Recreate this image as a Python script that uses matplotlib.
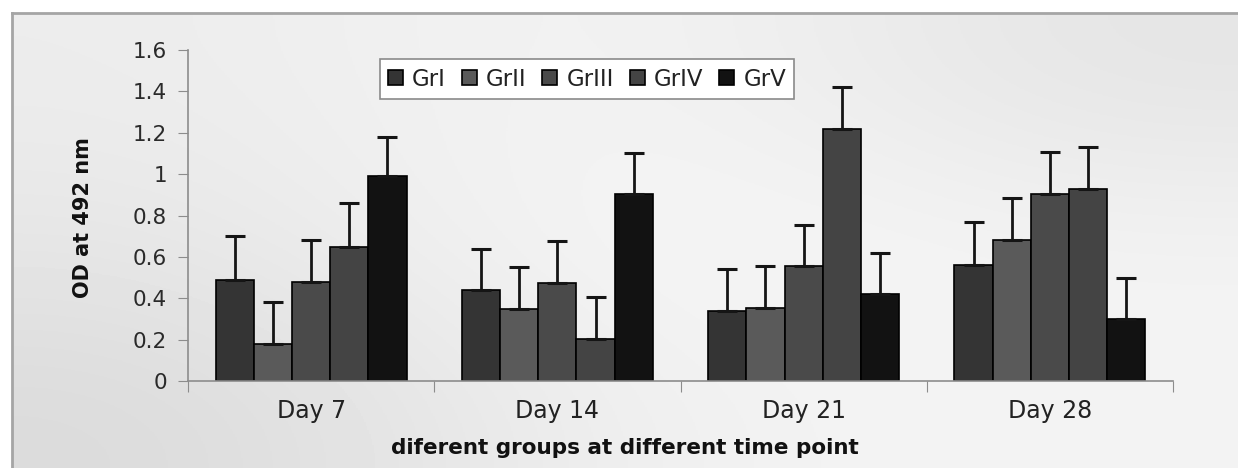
import numpy as np
import matplotlib
matplotlib.use("Agg")
import matplotlib.pyplot as plt

plt.rcParams['font.family'] = ['DejaVu Sans']

# ---- data ----
categories = ["Day 7", "Day 14", "Day 21", "Day 28"]
groups = ["GrI", "GrII", "GrIII", "GrIV", "GrV"]
gr1 = [0.49, 0.44, 0.34, 0.56]
gr2 = [0.18, 0.35, 0.355, 0.68]
gr3 = [0.48, 0.475, 0.555, 0.905]
gr4 = [0.65, 0.205, 1.22, 0.93]
gr5 = [0.99, 0.905, 0.42, 0.30]
err1 = [0.21, 0.20, 0.20, 0.21]
err2 = [0.20, 0.20, 0.20, 0.205]
err3 = [0.20, 0.20, 0.20, 0.20]
err4 = [0.21, 0.20, 0.20, 0.20]
err5 = [0.19, 0.195, 0.20, 0.20]
yticks = [0, 0.2, 0.4, 0.6, 0.8, 1, 1.2, 1.4, 1.6]
ytick_labels = ["0", "0.2", "0.4", "0.6", "0.8", "1", "1.2", "1.4", "1.6"]
xlabel = "diferent groups at different time point"
ylabel = "OD at 492 nm"

series = [gr1, gr2, gr3, gr4, gr5]
errors = [err1, err2, err3, err4, err5]
colors = ["#343434", "#5a5a5a", "#4a4a4a", "#444444", "#121212"]

W, H = 1238, 468
fig = plt.figure(figsize=(W / 100, H / 100), dpi=100)
fig.patch.set_facecolor("white")

# background gradient panel
bg = fig.add_axes([12 / W, 0, 1 - 12 / W, (H - 13) / H], zorder=0)
grid = np.array([[236, 245, 228],
                 [230, 248, 242],
                 [218, 241, 244]], dtype=float)
bg.imshow(grid, extent=[0, 1, 0, 1], aspect="auto", cmap="gray",
          vmin=0, vmax=255, interpolation="bicubic")
bg.set_xlim(0, 1); bg.set_ylim(0, 1)
bg.set_xticks([]); bg.set_yticks([])
for s in ["right", "bottom"]:
    bg.spines[s].set_visible(False)
for s in ["left", "top"]:
    bg.spines[s].set_color("#a5a5a5")
    bg.spines[s].set_linewidth(2)

# main axes
ax = fig.add_axes([188 / W, 87 / H, 985 / W, 331 / H], zorder=1)
ax.set_facecolor("none")
x = np.arange(1, len(categories) + 1)
bw = 0.155
for i, (vals, errs, c, name) in enumerate(zip(series, errors, colors, groups)):
    pos = x + (i - 2) * bw
    ax.bar(pos, vals, width=bw, color=c, edgecolor="black", linewidth=1.2,
           label=name, zorder=2)
    ax.errorbar(pos, vals, yerr=[np.zeros(len(errs)), errs], fmt="none",
                ecolor="#151515", elinewidth=2, capsize=7, capthick=2.2, zorder=3)

ax.set_xlim(0.5, len(categories) + 0.5)
ax.set_ylim(0, 1.6)
ax.set_yticks(yticks)
ax.set_yticklabels(ytick_labels, fontsize=15.5, color="#2a2a2a")
ax.set_xticks(np.arange(0.5, len(categories) + 1, 1))
ax.set_xticklabels([])
ax.set_xticks(x, minor=True)
ax.set_xticklabels(categories, minor=True, fontsize=17, color="#222222")
ax.tick_params(axis="x", which="minor", length=0, pad=13)
ax.tick_params(axis="x", which="major", length=8, color="#8c8c8c", direction="out")
ax.tick_params(axis="y", length=7, color="#8c8c8c", direction="out", pad=8)
for s in ["top", "right"]:
    ax.spines[s].set_visible(False)
for s in ["left", "bottom"]:
    ax.spines[s].set_color("#8c8c8c")
    ax.spines[s].set_linewidth(1.2)

fig.text(625 / W, 1 - 448 / H, xlabel, ha="center", va="center",
         fontsize=15.5, fontweight="bold", color="#111111")
fig.text(83 / W, 1 - 218 / H, ylabel, ha="center", va="center",
         rotation=90, fontsize=15, fontweight="bold", color="#111111")

leg = ax.legend(ncol=5, loc="center", bbox_to_anchor=(587 / W, 1 - 79 / H),
                bbox_transform=fig.transFigure, fontsize=16.5, frameon=True,
                fancybox=False, framealpha=1, edgecolor="#8a8a8a",
                handlelength=0.65, handleheight=0.6, handletextpad=0.4,
                columnspacing=0.7, borderpad=0.35)
leg.get_frame().set_linewidth(1.2)
for t in leg.get_texts():
    t.set_color("#222222")

fig.savefig("out.png", dpi=100)
